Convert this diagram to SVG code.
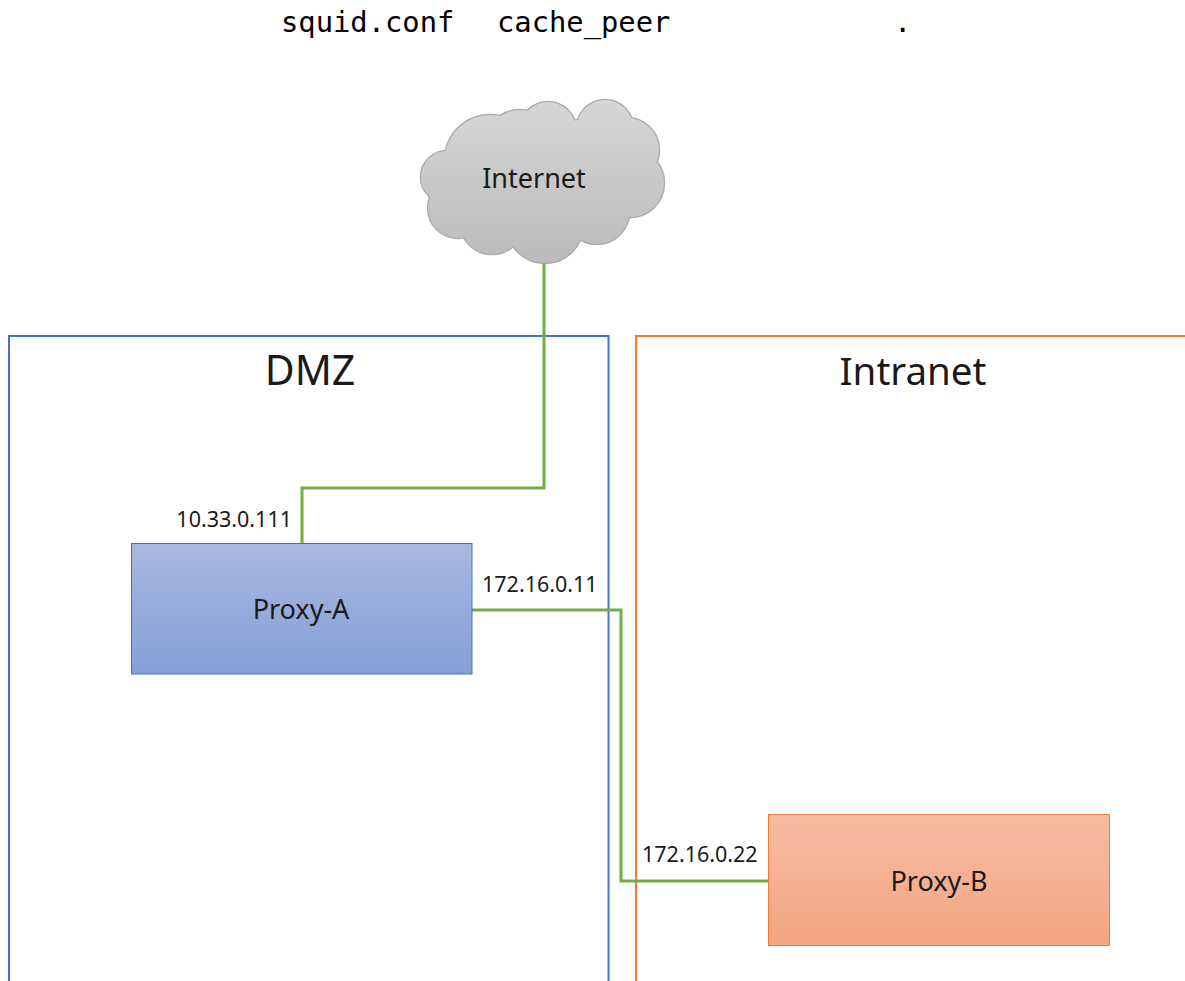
<svg xmlns="http://www.w3.org/2000/svg" width="1185" height="981" viewBox="0 0 1185 981">
<style>
.t{font-family:"Noto Sans","Open Sans","Liberation Sans",sans-serif;fill:#1a1a1a}
.mono{font-family:"DejaVu Sans Mono","Liberation Mono",monospace;font-size:28.8px;fill:#000}
.zone{text-anchor:middle}
.node{font-size:27px;text-anchor:middle}
.ip{font-size:21.5px}
.link{fill:none;stroke:#70ad47;stroke-width:3}
</style>
<defs>
<linearGradient id="gA" x1="0" y1="0" x2="0" y2="1"><stop offset="0" stop-color="#a8b8e1"/><stop offset="1" stop-color="#859fd7"/></linearGradient>
<linearGradient id="gB" x1="0" y1="0" x2="0" y2="1"><stop offset="0" stop-color="#f6bca2"/><stop offset="1" stop-color="#f4a581"/></linearGradient>
<linearGradient id="gC" gradientUnits="userSpaceOnUse" x1="0" y1="100" x2="0" y2="263"><stop offset="0" stop-color="#d6d6d6"/><stop offset="1" stop-color="#bbbbbb"/></linearGradient>
<g id="cloudShape">
<circle cx="447" cy="177" r="26"/>
<circle cx="458" cy="208" r="30"/>
<circle cx="490" cy="160" r="45"/>
<circle cx="548" cy="130" r="28"/>
<circle cx="605" cy="128" r="28"/>
<circle cx="627" cy="150" r="32"/>
<circle cx="630" cy="183" r="34"/>
<circle cx="597" cy="212" r="32"/>
<circle cx="545" cy="225" r="38"/>
<circle cx="492" cy="222" r="32"/>
<circle cx="540" cy="180" r="55"/>
<circle cx="580" cy="160" r="40"/>
<circle cx="520" cy="145" r="35"/>
</g>
</defs>
<rect width="1185" height="981" fill="#fff"/>
<text class="mono" y="32"><tspan x="281">squid.conf</tspan><tspan x="497">cache_peer</tspan><tspan x="894">.</tspan></text>
<g id="dmz">
<path d="M9,981 V336 H608.5 V981" fill="none" stroke="#4472c4" stroke-width="2"/>
<text class="t zone" x="310" y="385" font-size="41">DMZ</text>
</g>
<g id="intranet">
<path d="M636,981 V336 H1185" fill="none" stroke="#ed7d31" stroke-width="2"/>
<text class="t zone" x="913" y="385" font-size="38.5">Intranet</text>
</g>
<g id="connectors">
<path class="link" d="M544,262 V488 H302 V543"/>
<path class="link" d="M472,610 H621 V881 H768"/>
</g>
<g id="internet">
<use href="#cloudShape" fill="none" stroke="#aaaaaa" stroke-width="2.5"/>
<use href="#cloudShape" fill="url(#gC)"/>
<text class="t node" x="534" y="188" font-size="25.5">Internet</text>
</g>
<g id="proxyA">
<rect x="131.5" y="543.5" width="340.5" height="130.5" fill="url(#gA)" stroke="#4472c4" stroke-width="1"/>
<text class="t node" x="301" y="619">Proxy-A</text>
<text class="t ip" x="292" y="527" text-anchor="end">10.33.0.111</text>
<text class="t ip" x="482" y="592">172.16.0.11</text>
</g>
<g id="proxyB">
<rect x="768.5" y="814.5" width="341" height="131" fill="url(#gB)" stroke="#ed7d31" stroke-width="1"/>
<text class="t node" x="939" y="891">Proxy-B</text>
<text class="t ip" x="642" y="862">172.16.0.22</text>
</g>
</svg>
